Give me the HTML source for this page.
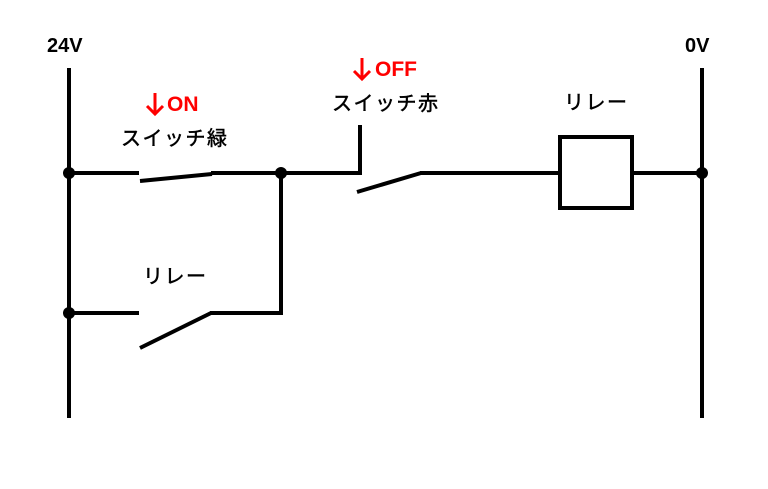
<!DOCTYPE html>
<html><head><meta charset="utf-8"><style>
body{margin:0;background:#fff}
svg text{font-family:"Liberation Sans","Noto Sans CJK JP",sans-serif}
</style></head><body>
<svg width="768" height="484" viewBox="0 0 768 484" xmlns="http://www.w3.org/2000/svg">
<g stroke="#000" stroke-width="4" fill="none">
<line x1="69" y1="68" x2="69" y2="418"/>
<line x1="702" y1="68" x2="702" y2="418"/>
<line x1="69" y1="173" x2="139" y2="173"/>
<line x1="140" y1="181" x2="212" y2="174"/>
<line x1="211" y1="173" x2="362" y2="173"/>
<line x1="360" y1="125" x2="360" y2="175"/>
<line x1="357" y1="192" x2="421" y2="173"/>
<line x1="420" y1="173" x2="560" y2="173"/>
<rect x="560" y="137" width="72" height="71"/>
<line x1="632" y1="173" x2="702" y2="173"/>
<line x1="69" y1="313" x2="139" y2="313"/>
<line x1="140" y1="348" x2="211" y2="313"/>
<line x1="210" y1="313" x2="283" y2="313"/>
<line x1="281" y1="173" x2="281" y2="315"/>
</g>
<g fill="#000">
<circle cx="69" cy="173" r="6"/><circle cx="281" cy="173" r="6"/>
<circle cx="69" cy="313" r="6"/><circle cx="702" cy="173" r="6"/>
</g>
<g font-weight="bold" font-size="20" fill="#000">
<text x="47" y="52">24V</text>
<text x="685" y="52">0V</text>
</g>
<g stroke="#ff0000" stroke-width="3" fill="none">
<path d="M155 93 V114 M147 106 L155 114 L163 106"/>
<path d="M362 58 V79 M354 71 L362 79 L370 71"/>
</g>
<g font-weight="bold" font-size="21" fill="#ff0000">
<text x="167" y="111">ON</text>
<text x="375" y="76">OFF</text>
</g>
<g font-size="20" fill="#000" letter-spacing="1.5" stroke="#000" stroke-width="0.5">
<text x="121" y="145">スイッチ緑</text>
<text x="332" y="110">スイッチ赤</text>
<text x="564" y="109">リレー</text>
<text x="143" y="283">リレー</text>
</g>
</svg>
</body></html>
